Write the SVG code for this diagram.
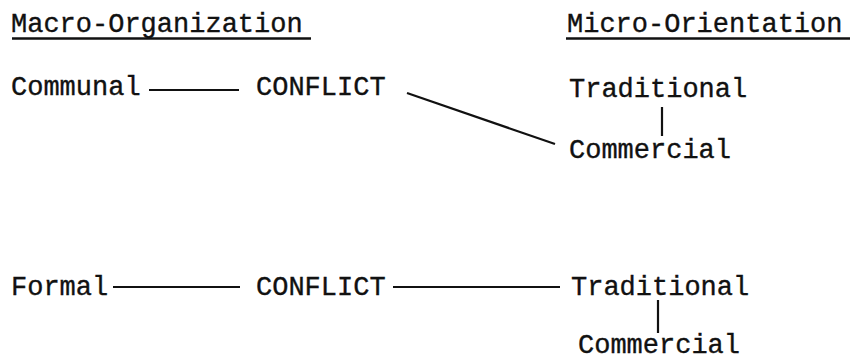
<svg xmlns="http://www.w3.org/2000/svg" width="852" height="362" viewBox="0 0 852 362">
<style>
  text { font-family: "Liberation Mono", "Courier New", monospace; font-size: 27px; fill: #111; stroke: #111; stroke-width: 0.35; }
  .ln { stroke: #111; stroke-width: 2.2; fill: none; stroke-linecap: butt; }
  .ul { stroke: #111; stroke-width: 2.6; fill: none; }
</style>
<rect width="852" height="362" fill="#fff"/>
<g id="header-macro">
  <text x="11" y="32">Macro-Organization</text>
  <line class="ul" x1="12" y1="38.5" x2="311" y2="38.5"/>
</g>
<g id="header-micro">
  <text x="567" y="32">Micro-Orientation</text>
  <line class="ul" x1="566" y1="38.5" x2="850" y2="38.5"/>
</g>
<g id="communal"><text x="11" y="95">Communal</text></g>
<g id="conflict1"><text x="256" y="95">CONFLICT</text></g>
<g id="traditional1"><text x="569" y="97">Traditional</text></g>
<g id="commercial1"><text x="569" y="158">Commercial</text></g>
<g id="formal"><text x="11" y="295">Formal</text></g>
<g id="conflict2"><text x="256" y="295">CONFLICT</text></g>
<g id="traditional2"><text x="571" y="295">Traditional</text></g>
<g id="commercial2"><text x="578" y="353">Commercial</text></g>
<g id="connectors">
  <line class="ln" x1="149" y1="90" x2="239" y2="90"/>
  <line class="ln" x1="407" y1="93" x2="555" y2="144"/>
  <line class="ln" x1="662" y1="107" x2="662" y2="136"/>
  <line class="ln" x1="113" y1="287" x2="240" y2="287"/>
  <line class="ln" x1="393" y1="287" x2="560" y2="287"/>
  <line class="ln" x1="658" y1="300" x2="658" y2="333"/>
</g>
</svg>
